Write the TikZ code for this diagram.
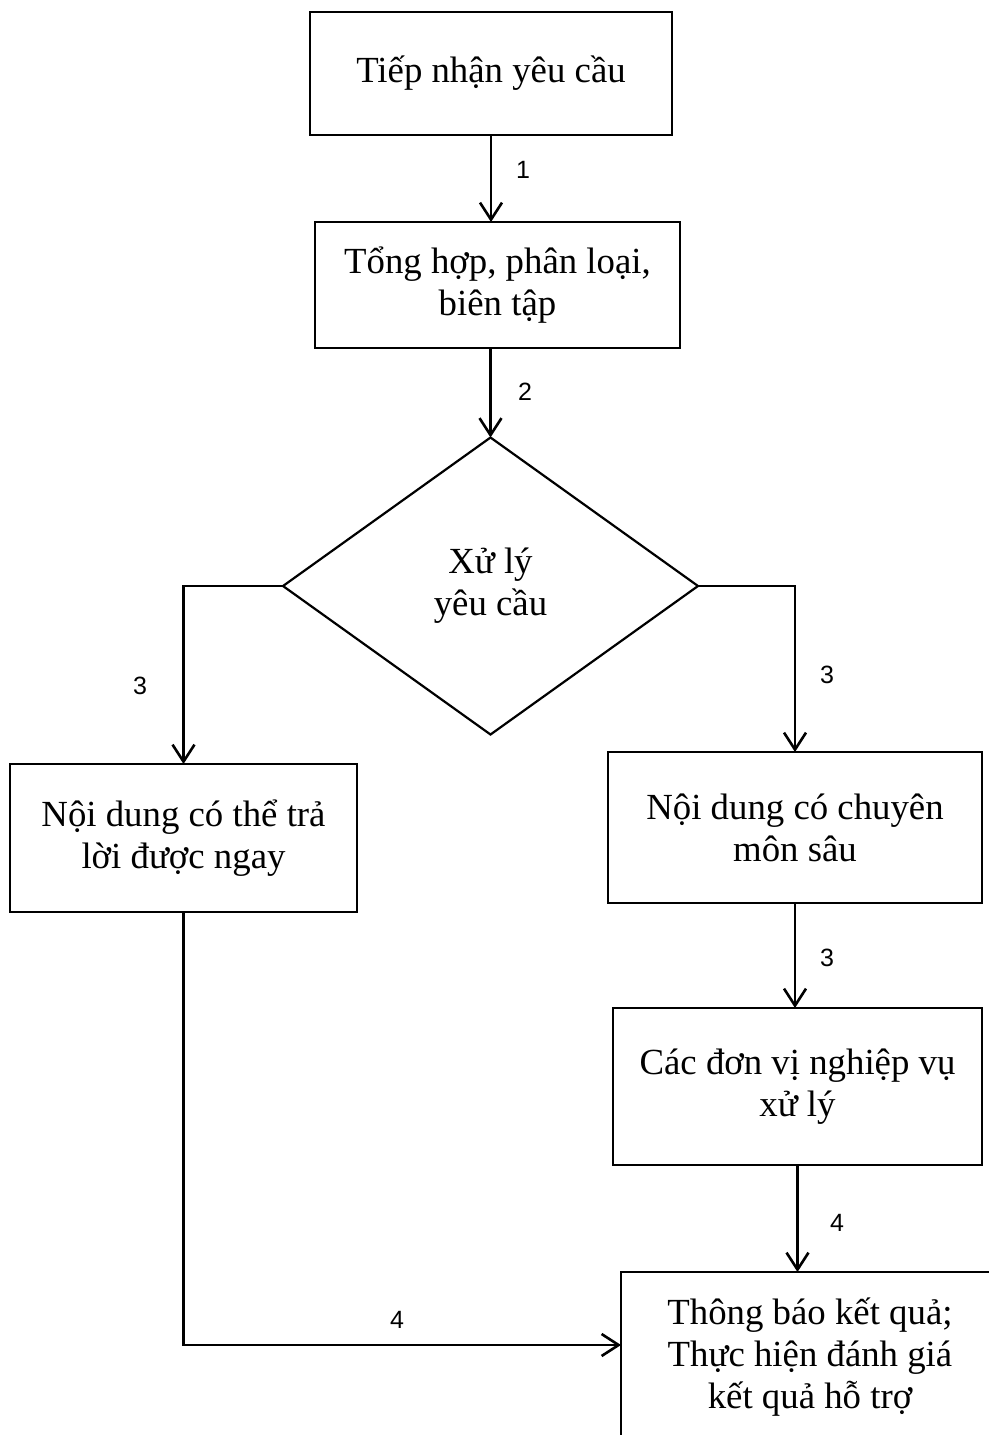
\documentclass[tikz,border=0pt]{standalone}
\usepackage{fontspec}
\setmainfont{Liberation Serif}
\newfontfamily\numfont{Liberation Sans}
\usetikzlibrary{shapes.geometric,arrows.meta}

\begin{document}
\begin{tikzpicture}[x=0.5pt,y=-0.5pt,
  box/.style={draw, line width=1.3pt, align=center, inner sep=0pt, outer sep=0pt,
    font=\fontsize{18.4}{21}\selectfont},
  flow/.style={line width=1.3pt, -{Straight Barb[length=8.5pt,width=11pt,line width=1.3pt]}},
  numlbl/.style={font=\numfont\fontsize{12.5}{14}\selectfont}]
  % Frame
  \useasboundingbox (0,0) rectangle (989,1435);
  \clip (0,0) rectangle (989,1435);

  % Steps
  \node[box, minimum width=181pt, minimum height=61.5pt] (recv) at (491,73.5) {Tiếp nhận yêu cầu};
  \node[box, minimum width=182.5pt, minimum height=63pt] (sum) at (497.5,285) {Tổng hợp, phân loại,\\biên tập};
  \node[box, shape=diamond, line width=1.1pt, minimum width=207.5pt, minimum height=148.5pt] (dec) at (490.5,586) {Xử lý\\yêu cầu};
  \node[box, minimum width=173.5pt, minimum height=74pt] (quick) at (183.5,838) {Nội dung có thể trả\\lời được ngay};
  \node[box, minimum width=187pt, minimum height=75.5pt] (deep) at (795,827.5) {Nội dung có chuyên\\môn sâu};
  \node[box, minimum width=184.5pt, minimum height=78.5pt] (units) at (797.5,1086.5) {Các đơn vị nghiệp vụ\\xử lý};
  \node[box, anchor=north, minimum width=189pt, minimum height=85pt] (result) at (810,1272) {Thông báo kết quả;\\Thực hiện đánh giá\\kết quả hỗ trợ};

  % Connectors
  \draw[flow] (recv.south) -- (recv.south |- sum.north);
  \draw[flow] (dec.north |- sum.south) -- (dec.north);
  \draw[flow] (dec.west) -| (quick.north);
  \draw[flow] (dec.east) -| (deep.north);
  \draw[flow] (deep.south) -- (deep.south |- units.north);
  \draw[flow] (units.south) -- (units.south |- result.north);
  \draw[flow] (quick.south) |- ([yshift=6pt]result.west);

  % Step numbers
  \node[numlbl] (l1) at (523,170) {1};
  \node[numlbl] (l2) at (525,392) {2};
  \node[numlbl] (l3a) at (140,686) {3};
  \node[numlbl] (l3b) at (827,675) {3};
  \node[numlbl] (l3c) at (827,958) {3};
  \node[numlbl] (l4a) at (837,1223) {4};
  \node[numlbl] (l4b) at (397,1320) {4};
\end{tikzpicture}
\end{document}
